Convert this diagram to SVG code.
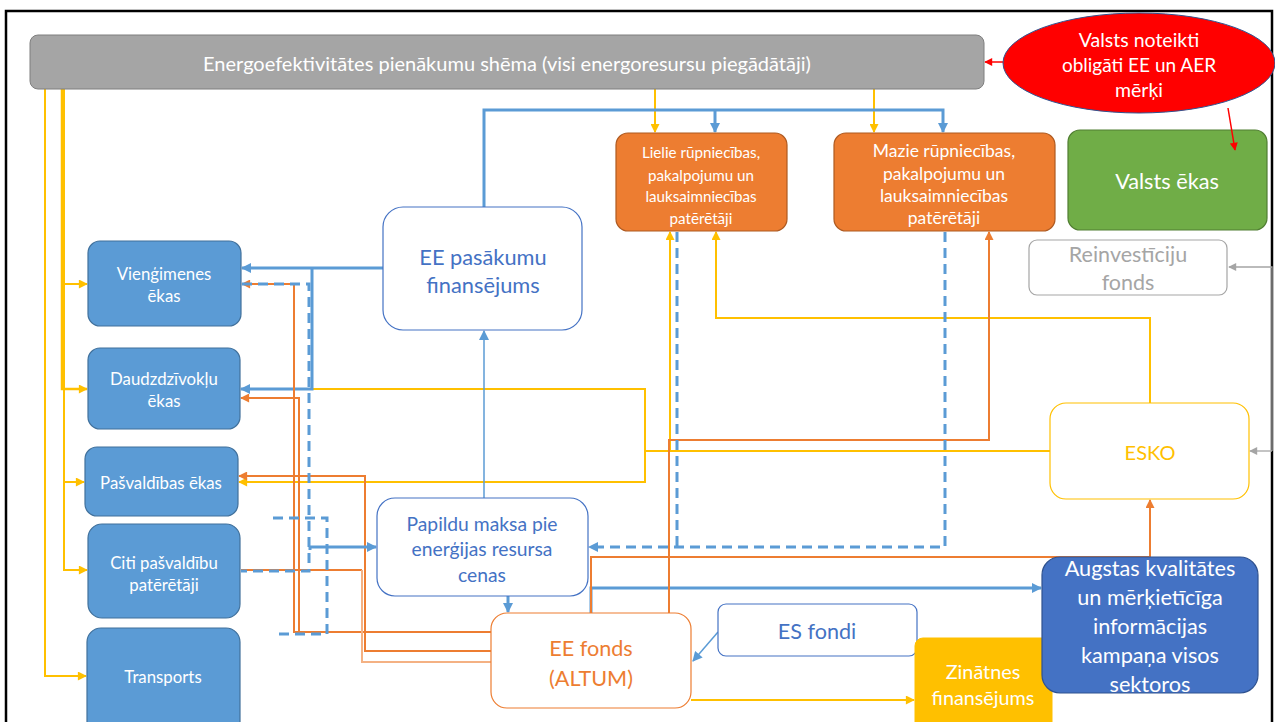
<svg xmlns="http://www.w3.org/2000/svg" width="1275" height="722" viewBox="0 0 1275 722">
  <style>
    text { font-family: Lato, "Open Sans", "Liberation Sans", sans-serif; text-anchor: middle; dominant-baseline: central; }
    .w { fill: #ffffff; }
    .blueTxt { fill: #4472c4; }
    .orTxt { fill: #ed7d31; }
    .yeTxt { fill: #ffc000; }
    .grTxt { fill: #a5a5a5; }
    .c { fill: none; stroke-linejoin: miter; }
    .ye { stroke: #ffc000; stroke-width: 2; }
    .yeT { stroke: #ffc000; stroke-width: 2.5; }
    .bl { stroke: #5b9bd5; stroke-width: 3; }
    .blThin { stroke: #5b9bd5; stroke-width: 1.5; }
    .blDash { stroke: #5b9bd5; stroke-width: 3; stroke-dasharray: 10 6; }
    .or { stroke: #ed7d31; stroke-width: 2; }
    .orL { stroke: #f4b183; stroke-width: 2; }
    .gr { stroke: #a5a5a5; stroke-width: 1.3; }
    .rd { stroke: #ff0000; stroke-width: 1.5; }
    .nodeBlue { fill: #5b9bd5; stroke: #41719c; stroke-width: 1.2; }
    .nodeOrange { fill: #ed7d31; stroke: #ae5a21; stroke-width: 1.2; }
    .lt { font-size: 16.8px; }
  </style>
  <defs>
    <marker id="aY" viewBox="0 0 10 10" refX="9" refY="5" markerWidth="10" markerHeight="9" markerUnits="userSpaceOnUse" orient="auto"><path d="M0,0 L10,5 L0,10 z" fill="#ffc000"/></marker>
    <marker id="aB" viewBox="0 0 10 10" refX="9" refY="5" markerWidth="11" markerHeight="10" markerUnits="userSpaceOnUse" orient="auto"><path d="M0,0 L10,5 L0,10 z" fill="#5b9bd5"/></marker>
    <marker id="aO" viewBox="0 0 10 10" refX="9" refY="5" markerWidth="10" markerHeight="9" markerUnits="userSpaceOnUse" orient="auto"><path d="M0,0 L10,5 L0,10 z" fill="#ed7d31"/></marker>
    <marker id="aR" viewBox="0 0 10 10" refX="9" refY="5" markerWidth="9" markerHeight="8" markerUnits="userSpaceOnUse" orient="auto"><path d="M0,0 L10,5 L0,10 z" fill="#ff0000"/></marker>
    <marker id="aG" viewBox="0 0 10 10" refX="9" refY="5" markerWidth="9" markerHeight="8" markerUnits="userSpaceOnUse" orient="auto"><path d="M0,0 L10,5 L0,10 z" fill="#a5a5a5"/></marker>
  </defs>

  <rect x="0" y="0" width="1275" height="722" fill="#ffffff"/>
  <!-- outer frame -->
  <rect x="6" y="11" width="1266" height="730" fill="none" stroke="#000000" stroke-width="2.5"/>

  <!-- drawn beneath the connectors so the target arrow shows on it -->
  <g id="state-buildings">
    <rect x="1068" y="130" width="199" height="100" rx="12" fill="#70ad47" stroke="#507e32" stroke-width="1.2"/>
    <text class="w" x="1167" y="181" font-size="21.7">Valsts ēkas</text>
  </g>

  <g id="connectors">
    <!-- supplier obligation scheme to consumer groups -->
    <path class="c ye" d="M45,89 V676 H86" marker-end="url(#aY)"/>
    <path class="c yeT" d="M62,89 V389 H87" marker-end="url(#aY)"/>
    <path class="c ye" d="M62,284 H87" marker-end="url(#aY)"/>
    <path class="c ye" d="M64,89 V570 H87" marker-end="url(#aY)"/>
    <path class="c ye" d="M64,482 H84" marker-end="url(#aY)"/>
    <path class="c ye" d="M655,89 V132" marker-end="url(#aY)"/>
    <path class="c ye" d="M874,89 V132" marker-end="url(#aY)"/>

    <!-- ESKO links -->
    <path class="c ye" d="M1150,403 V318 H716 V232" marker-end="url(#aY)"/>
    <path class="c ye" d="M1050,451 H645 V389 H313"/>
    <path class="c ye" d="M645,451 V482 H239" marker-end="url(#aY)"/>
    <path class="c ye" d="M670,451 V232" marker-end="url(#aY)"/>
    <path class="c ye" d="M691,700 H914" marker-end="url(#aY)"/>

    <!-- EE measures financing -->
    <path class="c bl" d="M484,207 V110 H943 V132" marker-end="url(#aB)"/>
    <path class="c bl" d="M715,110 V132" marker-end="url(#aB)"/>
    <path class="c bl" d="M383,268 H242" marker-end="url(#aB)"/>
    <path class="c bl" d="M312,268 V389 H241" marker-end="url(#aB)"/>
    <path class="c blThin" d="M484,498 V331" marker-end="url(#aB)"/>
    <path class="c bl" d="M508,596 V612" marker-end="url(#aB)"/>
    <path class="c bl" d="M591,613 V588 H1041" marker-end="url(#aB)"/>
    <path class="c blThin" d="M718,632 L693,661" stroke-width="1" marker-end="url(#aB)"/>

    <!-- EE fund flows -->
    <path class="c or" d="M491,632 H294 V284 H242" marker-end="url(#aO)"/>
    <path class="c or" d="M491,632 H299 V398 H241" marker-end="url(#aO)"/>
    <path class="c or" d="M491,651 H365 V476 H239" marker-end="url(#aO)"/>
    <path class="c or" d="M241,570 H362"/>
    <path class="c orL" d="M362,570 V662 H491"/>
    <path class="c or" d="M669,613 V440 H989 V232" marker-end="url(#aO)"/>
    <path class="c or" d="M591,613 V557 H1150 V500" marker-end="url(#aO)"/>

    <!-- energy price surcharge flows -->
    <path class="c blDash" d="M242,284 H309 V571 H241"/>
    <path class="c bl" d="M310,550 V547 H376" marker-end="url(#aB)"/>
    <path class="c blDash" d="M273,518 H327 V634 H277"/>
    <path class="c blDash" d="M677,232 V547"/>
    <path class="c blDash" d="M945,232 V547 H589" marker-end="url(#aB)"/>

    <!-- national targets -->
    <path class="c rd" d="M1003,62 H985" marker-end="url(#aR)"/>
    <path class="c rd" d="M1228,108 L1235,150" marker-end="url(#aR)"/>

    <!-- reinvestment fund -->
    <path class="c gr" d="M1272,451 V267 H1229" marker-end="url(#aG)"/>
    <path class="c gr" d="M1272,451 H1250" marker-end="url(#aG)"/>
  </g>

  <g id="scheme">
    <rect x="30" y="35" width="954" height="54" rx="8" fill="#a5a5a5" stroke="#7f7f7f" stroke-width="1"/>
    <text class="w" x="507" y="63" font-size="20">Energoefektivitātes pienākumu shēma (visi energoresursu piegādātāji)</text>
  </g>

  <g id="targets">
    <ellipse cx="1139" cy="63" rx="136" ry="50" fill="#ff0000" stroke="#2f528f" stroke-width="1"/>
    <text class="w" x="1139" y="39" font-size="19.5">Valsts noteikti</text>
    <text class="w" x="1139" y="64" font-size="19">obligāti EE un AER</text>
    <text class="w" x="1139" y="89" font-size="19.5">mērķi</text>
  </g>

  <g id="large-consumers">
    <rect class="nodeOrange" x="616" y="133" width="171" height="98" rx="12"/>
    <text class="w" x="701" y="152" font-size="15.2">Lielie rūpniecības,</text>
    <text class="w" x="701" y="175" font-size="15.2">pakalpojumu un</text>
    <text class="w" x="701" y="196" font-size="15.2">lauksaimniecības</text>
    <text class="w" x="701" y="218" font-size="15.2">patērētāji</text>
  </g>

  <g id="small-consumers">
    <rect class="nodeOrange" x="834" y="133" width="221" height="98" rx="12"/>
    <text class="w" x="944" y="150" font-size="17.5">Mazie rūpniecības,</text>
    <text class="w" x="944" y="173" font-size="17.5">pakalpojumu un</text>
    <text class="w" x="944" y="195" font-size="17.5">lauksaimniecības</text>
    <text class="w" x="944" y="217" font-size="17.5">patērētāji</text>
  </g>

  <g id="reinvestment-fund">
    <rect x="1029" y="240" width="198" height="55" rx="8" fill="#ffffff" stroke="#a5a5a5" stroke-width="1.2"/>
    <text class="grTxt" x="1128" y="254" font-size="21.5">Reinvestīciju</text>
    <text class="grTxt" x="1128" y="282" font-size="21.5">fonds</text>
  </g>

  <g id="esko">
    <rect x="1050" y="403" width="199" height="96" rx="16" fill="#ffffff" stroke="#ffc000" stroke-width="1.2"/>
    <text class="yeTxt" x="1150" y="452" font-size="20">ESKO</text>
  </g>

  <g id="ee-financing">
    <rect x="383" y="207" width="199" height="123" rx="20" fill="#ffffff" stroke="#4472c4" stroke-width="1.2"/>
    <text class="blueTxt" x="483" y="256" font-size="21.8">EE pasākumu</text>
    <text class="blueTxt" x="483" y="284" font-size="21.8">finansējums</text>
  </g>

  <g id="surcharge">
    <rect x="377" y="498" width="211" height="98" rx="18" fill="#ffffff" stroke="#4472c4" stroke-width="1.2"/>
    <text class="blueTxt" x="482" y="523" font-size="19.3">Papildu maksa pie</text>
    <text class="blueTxt" x="482" y="548" font-size="19.3">enerģijas resursa</text>
    <text class="blueTxt" x="482" y="574" font-size="19.3">cenas</text>
  </g>

  <g id="ee-fund">
    <rect x="491" y="613" width="200" height="95" rx="16" fill="#ffffff" stroke="#ed7d31" stroke-width="1.2"/>
    <text class="orTxt" x="591" y="648" font-size="21.6">EE fonds</text>
    <text class="orTxt" x="591" y="678" font-size="21.6">(ALTUM)</text>
  </g>

  <g id="eu-funds">
    <rect x="718" y="604" width="199" height="52" rx="8" fill="#ffffff" stroke="#4472c4" stroke-width="1.2"/>
    <text class="blueTxt" x="817" y="631" font-size="21.6">ES fondi</text>
  </g>

  <g id="science-funding">
    <rect x="915" y="638" width="137" height="100" rx="8" fill="#ffc000" stroke="#ffc000" stroke-width="1"/>
    <text class="w" x="983" y="671" font-size="19.8">Zinātnes</text>
    <text class="w" x="983" y="697" font-size="19.8">finansējums</text>
  </g>

  <g id="campaign">
    <rect x="1042" y="557" width="216" height="136" rx="18" fill="#4472c4" stroke="#2f528f" stroke-width="1.2"/>
    <text class="w" x="1150" y="568" font-size="21.7">Augstas kvalitātes</text>
    <text class="w" x="1150" y="597" font-size="21.7">un mērķietīcīga</text>
    <text class="w" x="1150" y="626" font-size="21.7">informācijas</text>
    <text class="w" x="1150" y="655" font-size="21.7">kampaņa visos</text>
    <text class="w" x="1150" y="684" font-size="21.7">sektoros</text>
  </g>

  <g id="single-family">
    <rect class="nodeBlue" x="88" y="241" width="153" height="85" rx="12"/>
    <text class="w lt" x="164" y="273">Vienģimenes</text>
    <text class="w lt" x="164" y="295">ēkas</text>
  </g>

  <g id="apartment">
    <rect class="nodeBlue" x="88" y="348" width="152" height="81" rx="12"/>
    <text class="w lt" x="164" y="378">Daudzdzīvokļu</text>
    <text class="w lt" x="164" y="400">ēkas</text>
  </g>

  <g id="municipal">
    <rect class="nodeBlue" x="85" y="447" width="153" height="69" rx="12"/>
    <text class="w lt" x="161" y="482">Pašvaldības ēkas</text>
  </g>

  <g id="municipal-other">
    <rect class="nodeBlue" x="88" y="524" width="152" height="94" rx="14"/>
    <text class="w lt" x="164" y="562">Citi pašvaldību</text>
    <text class="w lt" x="164" y="584">patērētāji</text>
  </g>

  <g id="transport">
    <rect class="nodeBlue" x="87" y="628" width="153" height="110" rx="14"/>
    <text class="w lt" x="163" y="676">Transports</text>
  </g>
</svg>
